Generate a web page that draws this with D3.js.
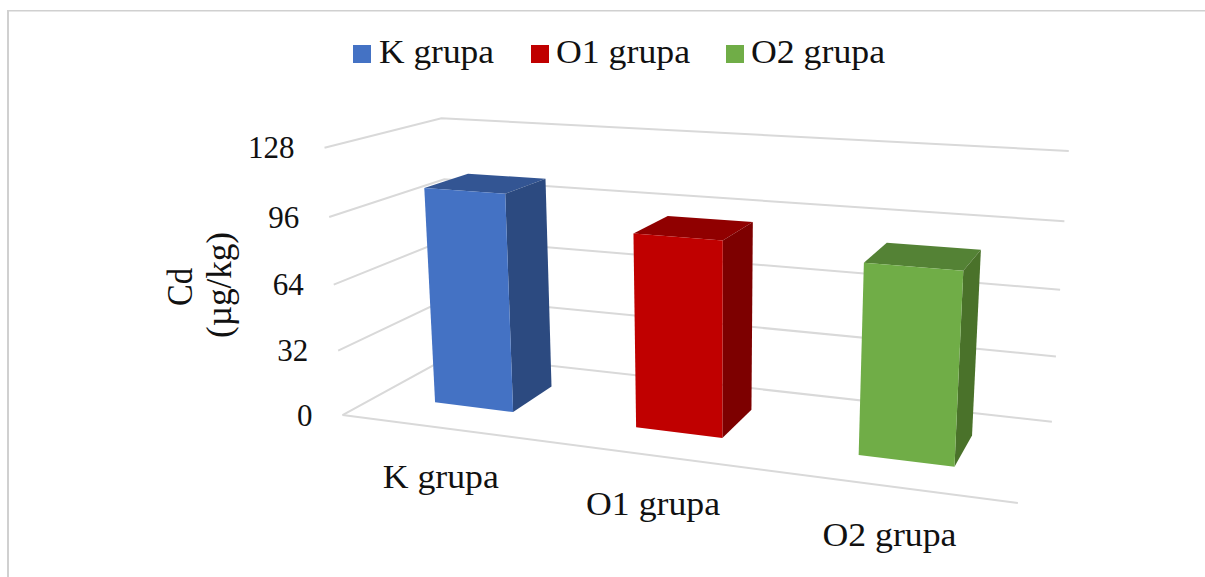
<!DOCTYPE html>
<html>
<head>
<meta charset="utf-8">
<script src="https://cdn.jsdelivr.net/npm/d3@7"></script>
<style>
html,body{margin:0;padding:0;background:#fff}
svg{display:block}
text{font-family:"Liberation Serif",serif;fill:#111}
</style>
</head>
<body>
<svg id="chart" width="1205" height="577"></svg>
<script>
// Chart data
const categories = ["K grupa", "O1 grupa", "O2 grupa"];
const cadmium = [106, 92, 87];
const tickValues = [0, 32, 64, 96, 128];
const faceColors = ["#4472C4", "#C00000", "#70AD47"];
const topColors = ["#335593", "#900000", "#548235"];
const sideColors = ["#2C4A80", "#7D0000", "#4A722A"];
const yTitle = ["Cd", "(µg/kg)"];

const W = 1205, H = 577;
const svg = d3.select("#chart");

// Box coordinates: x along categories, y along value, z into the page, all 0..1.
const xScale = d3.scaleBand().domain(categories).range([0, 1]).paddingInner(0.6).paddingOuter(0.3);
const yScale = d3.scaleLinear().domain([0, 128]).range([0, 1]);
const zFront = 0.3, zBack = 0.7;

// Where the corners and wall levels of the 3D box land on screen.
const anchors = [
  [[0,0,0],[343,415]], [[1,0,0],[1018,503]], [[1,0,1],[1052,422]], [[0,0,1],[452,355]],
  [[0,1,1],[442,118]], [[1,1,1],[1069,151]], [[0,1,0],[324,148]],
  [[0,.75,0],[329,217]], [[0,.5,0],[334,285]], [[0,.25,0],[338,350]],
  [[1,.75,1],[1064,221]], [[1,.5,1],[1060,290]], [[1,.25,1],[1056,356]]
];

// Least squares fit of a projective camera through the anchors.
function fitCamera(pts) {
  const n = 11;
  const A = d3.range(n).map(() => new Array(n + 1).fill(0));
  const addRow = (r, b) => {
    for (let i = 0; i < n; i++) {
      for (let j = 0; j < n; j++) A[i][j] += r[i] * r[j];
      A[i][n] += r[i] * b;
    }
  };
  pts.forEach(([[x, y, z], [px, py]]) => {
    const X = px / 1000, Y = py / 1000;
    addRow([x, y, z, 1, 0, 0, 0, 0, -X * x, -X * y, -X * z], X);
    addRow([0, 0, 0, 0, x, y, z, 1, -Y * x, -Y * y, -Y * z], Y);
  });
  for (let c = 0; c < n; c++) {
    let best = c;
    for (let r = c + 1; r < n; r++) if (Math.abs(A[r][c]) > Math.abs(A[best][c])) best = r;
    [A[c], A[best]] = [A[best], A[c]];
    for (let r = 0; r < n; r++) {
      if (r === c) continue;
      const f = A[r][c] / A[c][c];
      for (let k = c; k <= n; k++) A[r][k] -= f * A[c][k];
    }
  }
  return A.map((row, i) => row[n] / row[i]);
}
const cam = fitCamera(anchors);
function project(x, y, z) {
  const w = cam[8] * x + cam[9] * y + cam[10] * z + 1;
  return [
    1000 * (cam[0] * x + cam[1] * y + cam[2] * z + cam[3]) / w,
    1000 * (cam[4] * x + cam[5] * y + cam[6] * z + cam[7]) / w
  ];
}

// Outer frame of the figure: left and top rules only
svg.append("line").attr("x1", 8).attr("x2", 8).attr("y1", 10).attr("y2", H)
  .attr("stroke", "#d0d0d0").attr("stroke-width", 2);
svg.append("line").attr("x1", 7).attr("x2", W).attr("y1", 10.7).attr("y2", 10.7)
  .attr("stroke", "#d0d0d0").attr("stroke-width", 1.5);

// Gridlines on the left and back walls, plus the front floor edge
const line = d3.line();
const grid = svg.append("g").attr("fill", "none").attr("stroke", "#d9d9d9").attr("stroke-width", 2);
grid.selectAll("path.level").data(tickValues).join("path").attr("class", "level")
  .attr("d", t => line([project(0, yScale(t), 0), project(0, yScale(t), 1), project(1, yScale(t), 1)]));
grid.append("path").attr("d", line([project(0, 0, 0), project(1, 0, 0)]));

// Bars: top, right side, then front face
const poly = pts => line(pts) + "Z";
const bars = svg.append("g").selectAll("g").data(categories).join("g");
bars.each(function (cat, i) {
  const g = d3.select(this);
  const x0 = xScale(cat), x1 = x0 + xScale.bandwidth(), y1 = yScale(cadmium[i]);
  g.append("path").attr("fill", topColors[i])
    .attr("d", poly([project(x0, y1, zFront), project(x1, y1, zFront), project(x1, y1, zBack), project(x0, y1, zBack)]));
  g.append("path").attr("fill", sideColors[i])
    .attr("d", poly([project(x1, 0, zFront), project(x1, 0, zBack), project(x1, y1, zBack), project(x1, y1, zFront)]));
  g.append("path").attr("fill", faceColors[i])
    .attr("d", poly([project(x0, 0, zFront), project(x1, 0, zFront), project(x1, y1, zFront), project(x0, y1, zFront)]));
});

// Value axis labels sit just left of the front edge of the left wall
svg.append("g").selectAll("text").data(tickValues).join("text")
  .attr("text-anchor", "end").attr("font-size", 31)
  .attr("x", t => project(0, yScale(t), 0)[0] - 30)
  .attr("y", t => project(0, yScale(t), 0)[1] + 10.5)
  .text(t => t);

// Category labels under the front floor edge
svg.append("g").selectAll("text").data(categories).join("text")
  .attr("text-anchor", "middle").attr("font-size", 33)
  .attr("x", c => project(xScale(c) + xScale.bandwidth() / 2, 0, 0)[0])
  .attr("y", c => project(xScale(c) + xScale.bandwidth() / 2, 0, 0)[1] + 60)
  .attr("textLength", c => c.length === 7 ? 116 : 134)
  .attr("lengthAdjust", "spacingAndGlyphs")
  .text(c => c);

// Rotated value axis title
svg.append("g").selectAll("text").data(yTitle).join("text")
  .attr("text-anchor", "middle").attr("font-size", 35)
  .attr("transform", (d, i) => `translate(${192 + i * 39},${i ? 285 : 287}) rotate(-90)`)
  .attr("textLength", (d, i) => i ? 106 : 38)
  .attr("lengthAdjust", "spacingAndGlyphs")
  .text(d => d);

// Legend
const legendOffsets = [0, 178, 373];
const legend = svg.append("g").selectAll("g").data(categories).join("g")
  .attr("transform", (c, i) => `translate(${353 + legendOffsets[i]},0)`);
legend.append("rect").attr("y", 45).attr("width", 18).attr("height", 18).attr("fill", (c, i) => faceColors[i]);
legend.append("text").attr("x", (c, i) => i ? 25 : 26).attr("y", 63).attr("font-size", 33)
  .attr("textLength", c => c.length === 7 ? 115 : 134)
  .attr("lengthAdjust", "spacingAndGlyphs")
  .text(c => c);
</script>
</body>
</html>
